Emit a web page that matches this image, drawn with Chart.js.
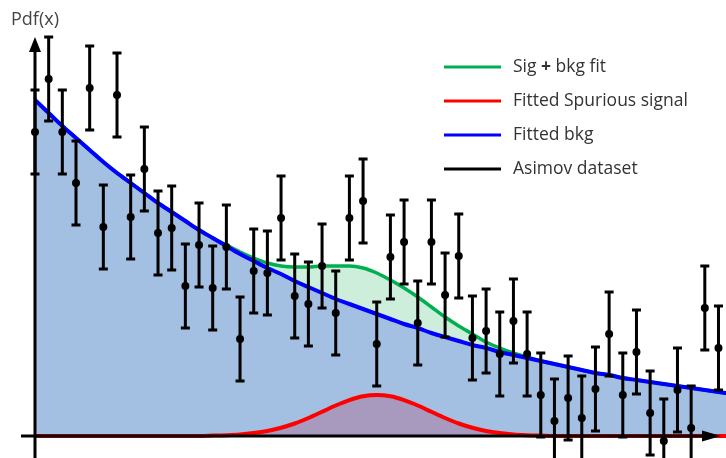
<!DOCTYPE html>
<html>
<head>
<meta charset="utf-8">
<script src="https://cdn.jsdelivr.net/npm/chart.js@4.4.1/dist/chart.umd.min.js"></script>
<style>
  html, body { margin: 0; padding: 0; background: #fff; }
  #wrap { width: 726px; height: 458px; }
</style>
</head>
<body>
<div id="wrap"><canvas id="pdf" width="726" height="458"></canvas></div>
<script>
// bin index of every data point / curve sample
var bins = [];
for (var i = 0; i <= 51; i++) bins.push(i);

// Asimov dataset, error is the same on every point
var asimov = [30.4, 35.7, 30.4, 25.3, 34.8, 20.9, 34.1, 21.9, 26.7, 20.3,
              20.8, 15.0, 19.1, 14.8, 18.9, 9.7, 16.5, 16.3, 21.8, 14.0,
              13.2, 17.0, 12.3, 21.8, 23.5, 9.2, 17.9, 19.4, 11.3, 19.4,
              14.1, 18.0, 9.8, 10.5, 8.2, 11.5, 8.2, 4.1, 1.5, 3.8,
              1.8, 4.7, 10.2, 4.1, 8.4, 2.3, -0.5, 4.6, 0.8, 12.8, 8.8];
var asimovErr = 4.2;

// fitted background
var bkg = [33.6, 32.3, 31.0, 29.8, 28.6, 27.4, 26.3, 25.3, 24.3, 23.3,
           22.4, 21.5, 20.6, 19.8, 19.0, 18.2, 17.5, 16.8, 16.2, 15.5,
           14.9, 14.3, 13.7, 13.2, 12.7, 12.2, 11.7, 11.2, 10.8, 10.3,
           9.9, 9.5, 9.1, 8.8, 8.4, 8.1, 7.8, 7.5, 7.2, 6.9,
           6.6, 6.3, 6.1, 5.8, 5.6, 5.4, 5.2, 5.0, 4.8, 4.6, 4.4, 4.2];

// fitted spurious signal
var spurious = [0, 0, 0, 0, 0, 0, 0, 0, 0, 0,
                0, 0.01, 0.01, 0.04, 0.08, 0.15, 0.29, 0.5, 0.82, 1.25,
                1.8, 2.42, 3.05, 3.59, 3.97, 4.1, 3.97, 3.59, 3.05, 2.42,
                1.8, 1.25, 0.82, 0.5, 0.29, 0.15, 0.08, 0.04, 0.01, 0.01,
                0, 0, 0, 0, 0, 0, 0, 0, 0, 0, 0, 0];

// sig + bkg fit
var sigBkg = [33.6, 32.3, 31.0, 29.8, 28.6, 27.4, 26.3, 25.3, 24.3, 23.3,
              22.4, 21.5, 20.6, 19.8, 19.1, 18.4, 17.8, 17.3, 17.0, 16.9,
              16.9, 17.0, 17.0, 17.0, 16.8, 16.3, 15.6, 14.8, 13.9, 12.9,
              11.9, 11.0, 10.2, 9.4, 8.8, 8.3, 7.9, 7.5, 7.2, 6.9,
              6.6, 6.3, 6.1, 5.8, 5.6, 5.4, 5.2, 5.0, 4.8, 4.6, 4.4, 4.2];

var legendLabels = ["Sig + bkg fit", "Fitted Spurious signal", "Fitted bkg", "Asimov dataset"];
var legendColors = ["#00b050", "#ff0000", "#0000ff", "#000000"];

function pts(arr) {
    return arr.map(function (v, k) { return {x: bins[k], y: v}; });
}

var FONT = '"Open Sans", "Noto Sans", sans-serif';

// axes with arrows + error bars, drawn right before the data points
var axesAndBars = {
    id: 'axesAndBars',
    beforeDatasetDraw: function (chart, args) {
        if (args.index !== 6) return;
        var ctx = chart.ctx, xs = chart.scales.x, ys = chart.scales.y;
        var x0 = xs.getPixelForValue(0), y0 = ys.getPixelForValue(0);
        ctx.save();
        ctx.strokeStyle = '#000';
        ctx.fillStyle = '#000';
        ctx.lineWidth = 3;
        // y axis
        ctx.beginPath();
        ctx.moveTo(x0, 458);
        ctx.lineTo(x0, 48);
        ctx.stroke();
        ctx.beginPath();
        ctx.moveTo(x0, 37);
        ctx.lineTo(x0 - 6, 52);
        ctx.lineTo(x0 + 6, 52);
        ctx.closePath();
        ctx.fill();
        // x axis
        ctx.beginPath();
        ctx.moveTo(21, y0);
        ctx.lineTo(706, y0);
        ctx.stroke();
        ctx.beginPath();
        ctx.moveTo(721, y0);
        ctx.lineTo(702, y0 - 5.5);
        ctx.lineTo(702, y0 + 5.5);
        ctx.closePath();
        ctx.fill();

        // error bars
        ctx.lineWidth = 3;
        asimov.forEach(function (v, k) {
            var px = xs.getPixelForValue(bins[k]);
            var top = ys.getPixelForValue(v + asimovErr);
            var bot = ys.getPixelForValue(v - asimovErr);
            ctx.beginPath();
            ctx.moveTo(px, top);
            ctx.lineTo(px, bot);
            ctx.moveTo(px - 4.5, top);
            ctx.lineTo(px + 4.5, top);
            ctx.moveTo(px - 4.5, bot);
            ctx.lineTo(px + 4.5, bot);
            ctx.stroke();
        });
        ctx.restore();
    },
    afterDraw: function (chart) {
        var ctx = chart.ctx;
        ctx.save();
        ctx.fillStyle = '#444';
        ctx.textBaseline = 'middle';
        ctx.font = '18px ' + FONT;
        ctx.fillText('Pdf(x)', 11, 20);

        // legend
        var rows = [67, 101, 135, 169];
        ctx.lineWidth = 3;
        legendLabels.forEach(function (lab, k) {
            var y = rows[k];
            ctx.strokeStyle = legendColors[k];
            ctx.beginPath();
            ctx.moveTo(444, y);
            ctx.lineTo(501, y);
            ctx.stroke();
            ctx.fillStyle = '#333';
            if (k === 0) {
                var parts = lab.split('+');
                var x = 513;
                ctx.font = '17.5px ' + FONT;
                ctx.fillText(parts[0], x, y);
                x += ctx.measureText(parts[0]).width;
                ctx.font = 'bold 17.5px ' + FONT;
                ctx.fillText('+', x, y);
                x += ctx.measureText('+').width;
                ctx.font = '17.5px ' + FONT;
                ctx.fillText(parts[1], x, y);
            } else {
                ctx.font = '17.5px ' + FONT;
                ctx.fillText(lab, 513, y);
            }
        });
        ctx.restore();
    }
};

var ctx = document.getElementById('pdf').getContext('2d');
var chart = new Chart(ctx, {
    type: 'line',
    data: {
        datasets: [
            {   // 0 blue fill
                data: pts(bkg), order: 6, fill: 'origin',
                backgroundColor: '#a3bfe1', borderWidth: 0, pointRadius: 0,
                cubicInterpolationMode: 'monotone'
            },
            {   // 1 green fill down to bkg
                data: pts(sigBkg), order: 5, fill: 0,
                backgroundColor: '#cdeedb', borderWidth: 0, pointRadius: 0,
                cubicInterpolationMode: 'monotone'
            },
            {   // 2 purple fill under signal
                data: pts(spurious), order: 4, fill: 'origin',
                backgroundColor: '#a899bf', borderWidth: 0, pointRadius: 0,
                cubicInterpolationMode: 'monotone'
            },
            {   // 3 sig + bkg line
                data: pts(sigBkg), order: 3, fill: false,
                borderColor: '#00b050', borderWidth: 3.5, pointRadius: 0,
                cubicInterpolationMode: 'monotone'
            },
            {   // 4 bkg line
                data: pts(bkg), order: 2, fill: false,
                borderColor: '#0000ff', borderWidth: 4, pointRadius: 0,
                cubicInterpolationMode: 'monotone'
            },
            {   // 5 spurious line
                data: pts(spurious), order: 1, fill: false,
                borderColor: '#ff0000', borderWidth: 4, pointRadius: 0,
                cubicInterpolationMode: 'monotone'
            },
            {   // 6 asimov points
                data: pts(asimov), order: 0, showLine: false, fill: false,
                pointRadius: 4, pointBackgroundColor: '#000', pointBorderWidth: 0,
                borderColor: '#000'
            }
        ]
    },
    options: {
        responsive: false,
        animation: false,
        layout: { padding: 0, autoPadding: false },
        plugins: { legend: { display: false }, tooltip: { enabled: false } },
        scales: {
            x: { type: 'linear', display: false, min: -2.56, max: 50.55 },
            y: { type: 'linear', display: false, min: -2.2, max: 43.6 }
        }
    },
    plugins: [axesAndBars]
});
</script>
</body>
</html>
